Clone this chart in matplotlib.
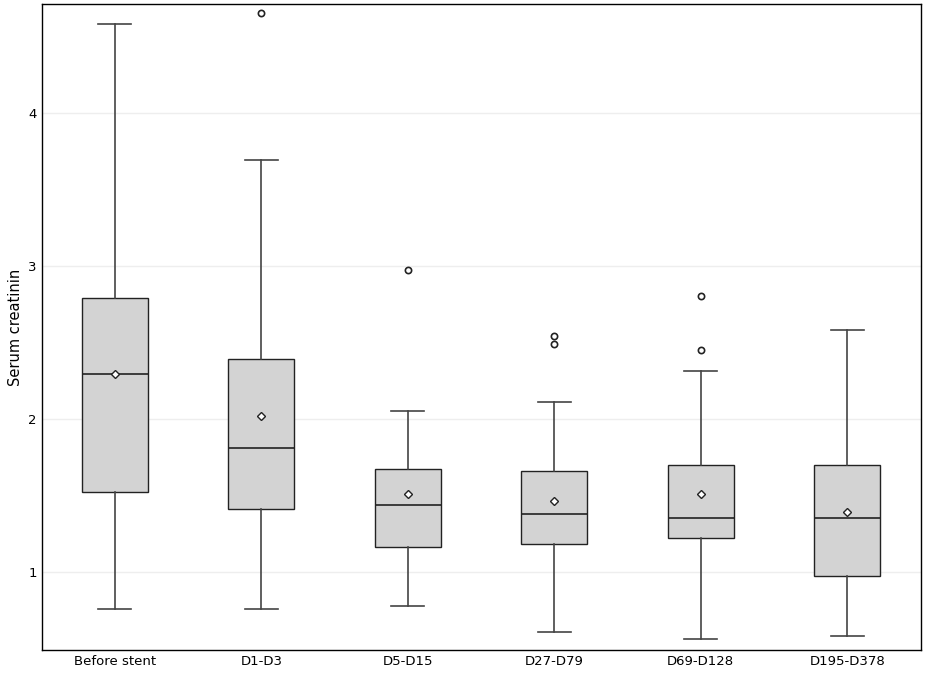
import matplotlib.pyplot as plt

groups = ['Before stent', 'D1-D3', 'D5-D15', 'D27-D79', 'D69-D128', 'D195-D378']
whislo = [0.76, 0.76, 0.78, 0.61, 0.56, 0.58]
q1 = [1.52, 1.41, 1.16, 1.18, 1.22, 0.97]
med = [2.29, 1.81, 1.44, 1.38, 1.35, 1.35]
q3 = [2.79, 2.39, 1.67, 1.66, 1.70, 1.70]
whishi = [4.58, 3.69, 2.05, 2.11, 2.31, 2.58]
means = [2.29, 2.02, 1.51, 1.46, 1.51, 1.39]
fliers = [[], [4.65], [2.97], [2.54, 2.49], [2.80, 2.45], []]

stats = []
for i, g in enumerate(groups):
    stats.append(dict(label=g, whislo=whislo[i], q1=q1[i], med=med[i], q3=q3[i],
                      whishi=whishi[i], mean=means[i], fliers=fliers[i]))

fig = plt.figure(figsize=(9.27, 6.82), dpi=100)
ax = fig.add_axes([0.045, 0.047, 0.948, 0.947])
ax.bxp(stats, showmeans=True, widths=0.45, patch_artist=True,
       boxprops=dict(facecolor='#d3d3d3', edgecolor='#222222', linewidth=1),
       medianprops=dict(color='#222222', linewidth=1.2),
       whiskerprops=dict(color='#444444', linewidth=1.2),
       capprops=dict(color='#444444', linewidth=1.2),
       meanprops=dict(marker='D', markersize=4, markerfacecolor='white',
                      markeredgecolor='#222222', markeredgewidth=1),
       flierprops=dict(marker='o', markersize=4.5, markerfacecolor='white',
                       markeredgecolor='#222222', markeredgewidth=1.2))
ax.set_ylim(0.49, 4.71)
ax.set_yticks([1, 2, 3, 4])
ax.yaxis.grid(True, color='#eeeeee', linewidth=1)
ax.set_axisbelow(True)
ax.tick_params(axis='both', length=0, labelsize=9.5)
ax.set_ylabel('Serum creatinin', fontsize=10.5)
for s in ax.spines.values():
    s.set_linewidth(1)
fig.savefig('out.png', dpi=100)
